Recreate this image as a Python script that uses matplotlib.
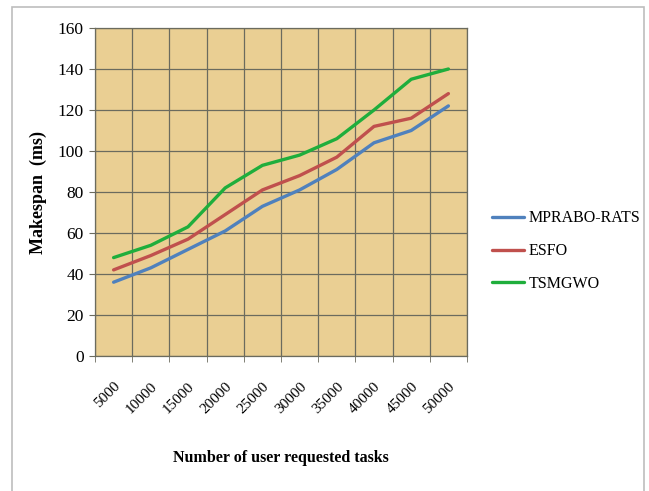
import matplotlib
matplotlib.use("Agg")
import matplotlib.pyplot as plt
from matplotlib.patches import Rectangle
import numpy as np

categories = ["5000", "10000", "15000", "20000", "25000", "30000", "35000", "40000", "45000", "50000"]
mprabo = [36, 43, 52, 61, 73, 81, 91, 104, 110, 122]
esfo = [42, 49, 57, 69, 81, 88, 97, 112, 116, 128]
tsmgwo = [48, 54, 63, 82, 93, 98, 106, 120, 135, 140]
series_names = ["MPRABO-RATS", "ESFO", "TSMGWO"]
colors = ["#4F81BD", "#C0504D", "#1FAE3C"]

plt.rcParams['font.family'] = ['Liberation Serif', 'DejaVu Serif']

fig = plt.figure(figsize=(6.49, 4.91), dpi=100)
fig.patch.set_facecolor("white")
ax = fig.add_axes([95/649, 1-356/491, (467-95)/649, (356-28)/491])
ax.set_facecolor("#EACF93")

x = np.arange(len(categories))
for vals, name, c in zip([mprabo, esfo, tsmgwo], series_names, colors):
    ax.plot(x, vals, color=c, lw=2.4, label=name, solid_capstyle='round', zorder=3)

ax.set_xlim(-0.5, len(categories) - 0.5)
ax.set_ylim(0, 160)
ax.set_yticks(np.arange(0, 161, 20))
ax.set_xticks(x)
ax.set_xticklabels(categories, rotation=45, ha='right', va='top', rotation_mode='anchor', fontsize=11)
ax.set_xticks(np.arange(-0.5, len(categories), 1), minor=True)
ax.tick_params(axis='x', which='major', length=0, pad=17)
ax.tick_params(axis='x', which='minor', length=4, color='#6b6b5e')
ax.tick_params(axis='y', length=4, color='#6b6b5e', labelsize=12.5, pad=4)
ax.grid(axis='y', which='major', color='#6b6b5e', lw=0.9)
ax.grid(axis='x', which='minor', color='#6b6b5e', lw=0.9)
ax.set_axisbelow(True)
for s in ax.spines.values():
    s.set_color('#6b6b5e')
    s.set_linewidth(0.9)

ax.set_ylabel("Makespan  (ms)", fontsize=13, fontweight='bold', labelpad=8)
ax.set_xlabel("Number of user requested tasks", fontsize=11.5, fontweight='bold', labelpad=25)

fig.legend(loc='upper left', bbox_to_anchor=(478/649, 1-196/491), frameon=False,
           fontsize=11.5, handlelength=2.0, labelspacing=1.05, handletextpad=0.25)

fig.patches.append(Rectangle((12/649, -0.02), (644-12)/649, 1.02-7/491, transform=fig.transFigure,
                             fill=False, edgecolor='#BDBDBD', lw=1.2))

fig.savefig("out.png", dpi=100)
